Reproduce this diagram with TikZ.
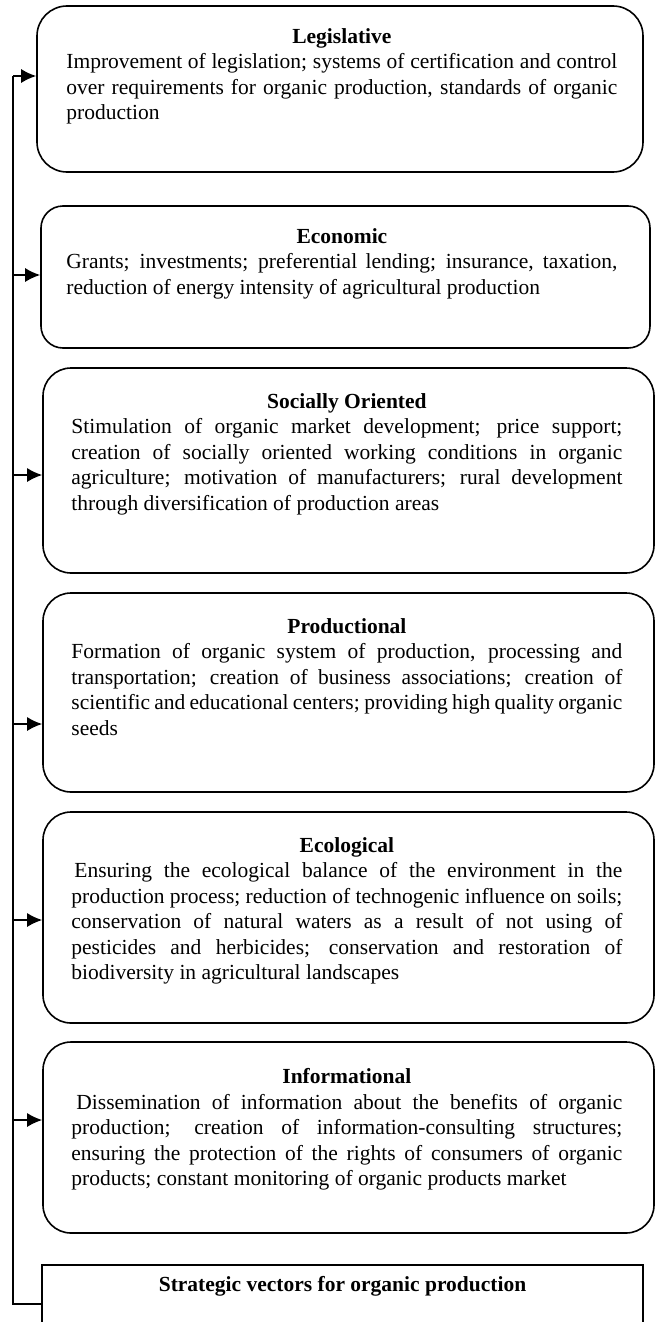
\documentclass[tikz,border=0pt]{standalone}
\usepackage{fontspec}
\setmainfont{Liberation Serif}
\usetikzlibrary{positioning,arrows.meta}

\hyphenpenalty=10000
\emergencystretch=20pt

\tikzset{
  vecbox/.style={draw, line width=1.6pt, rounded corners=28pt, inner sep=0pt},
  vectext/.style={anchor=north west, inner sep=0pt, text width=551pt, align=justify,
    font=\fontsize{21.5}{25.5}\selectfont},
}
\newcommand{\vectitle}[1]{{\centering\textbf{#1}\par}\noindent}

\begin{document}
\begin{tikzpicture}[x=1pt,y=-1pt,>={Latex[length=15pt,width=14pt]}]

  \useasboundingbox (0,0) rectangle (660,1322);

  % draw the vector boxes
  \node[vecbox, rounded corners=30pt, minimum width=606pt, minimum height=166pt] (leg) at (340,89) {};
  \node[vecbox, rounded corners=22pt, minimum width=609pt, minimum height=142pt] (eco) at (345.5,277) {};
  \node[vecbox, minimum width=611pt, minimum height=205pt] (soc) at (348.5,470.5) {};
  \node[vecbox, minimum width=611pt, minimum height=199pt] (pro) at (348.5,692.5) {};
  \node[vecbox, minimum width=611pt, minimum height=211pt] (ecl) at (348.5,917.5) {};
  \node[vecbox, minimum width=611pt, minimum height=191pt] (inf) at (348.5,1137.5) {};
  \node[draw, line width=1.6pt, minimum width=601pt, minimum height=95pt] (str) at (342.5,1312.5) {};

  % draw the texts of the boxes
  \node[vectext] (legtxt) at ([xshift=30pt,yshift=-23pt]leg.north west)
    {\vectitle{Legislative}Improvement of legislation; systems of certification and control over requirements for organic production, standards of organic production};
  \node[vectext] (ecotxt) at ([xshift=26pt,yshift=-23pt]eco.north west)
    {\vectitle{Economic}Grants; investments; preferential lending; insurance, taxation, reduction of energy intensity of agricultural production};
  \node[vectext] (soctxt) at ([xshift=29pt,yshift=-26pt]soc.north west)
    {\vectitle{Socially Oriented}Stimulation of organic market development; price support; creation of socially oriented working conditions in organic agriculture; motivation of manufacturers; rural development through diversification of production areas};
  \node[vectext] (protxt) at ([xshift=29pt,yshift=-26pt]pro.north west)
    {\vectitle{Productional}Formation of organic system of production, processing and transportation; creation of business associations; creation of scientific and educational centers; providing high quality organic seeds};
  \node[vectext] (ecltxt) at ([xshift=29pt,yshift=-26pt]ecl.north west)
    {\vectitle{Ecological}\hspace*{3pt}Ensuring the ecological balance of the environment in the\linebreak production process; reduction of technogenic influence on soils;\linebreak conservation of natural waters as a result of not using of\linebreak pesticides and herbicides; conservation and restoration of\linebreak biodiversity in agricultural landscapes};
  \node[vectext] (inftxt) at ([xshift=29pt,yshift=-27pt]inf.north west)
    {\vectitle{Informational}\hspace*{5pt}Dissemination of information about the benefits of organic production; creation of information-consulting structures; ensuring the protection of the rights of consumers of organic products; constant monitoring of organic products market};
  \node[font=\bfseries\fontsize{21.5}{25.5}\selectfont, inner sep=0pt] (strtxt) at ([yshift=-22pt]str.north)
    {Strategic vectors for organic production};

  % points on the left line
  \coordinate (sp1) at (13,76);
  \coordinate (sp2) at (13,275);
  \coordinate (sp3) at (13,475);
  \coordinate (sp4) at (13,724);
  \coordinate (sp5) at (13,920);
  \coordinate (sp6) at (13,1120);
  \coordinate (spb) at (13,1304);

  % draw the left line and the arrows
  \draw[line width=1.6pt] (sp1) -- (spb) -- (spb -| str.west);
  \foreach \c/\b in {sp1/leg,sp2/eco,sp3/soc,sp4/pro,sp5/ecl,sp6/inf} {
    \draw[->, line width=1.6pt] (\c) -- (\c -| \b.west);
  }

\end{tikzpicture}
\end{document}
